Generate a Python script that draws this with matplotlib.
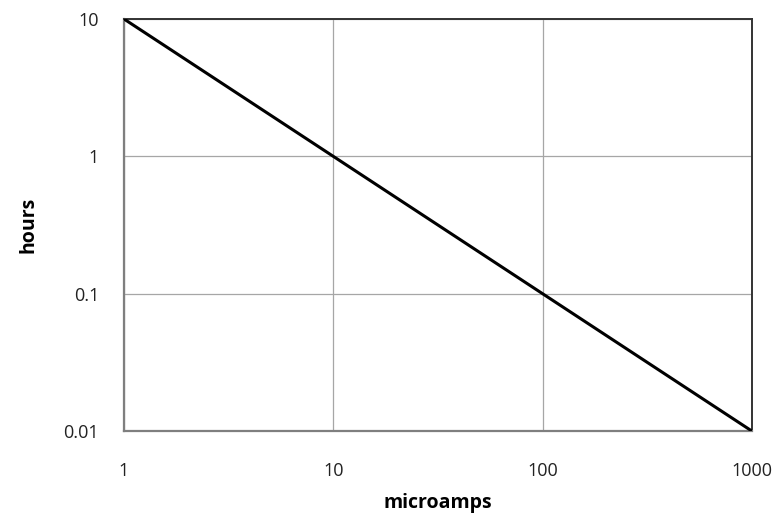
import numpy as np
import matplotlib.pyplot as plt
from matplotlib.ticker import FixedLocator, FixedFormatter, NullLocator

microamps = [1, 10, 100, 1000]
hours = [10, 1, 0.1, 0.01]
x_ticks = [1, 10, 100, 1000]
x_labels = ['1', '10', '100', '1000']
y_ticks = [0.01, 0.1, 1, 10]
y_labels = ['0.01', '0.1', '1', '10']

plt.rcParams['font.family'] = ['Open Sans', 'DejaVu Sans']

fig = plt.figure(figsize=(7.77, 5.22), dpi=100)
ax = fig.add_axes([0.1596, 0.1743, 0.808, 0.7893])

ax.plot(microamps, hours, color='black', lw=2.2, solid_capstyle='round', zorder=3)

ax.set_xscale('log')
ax.set_yscale('log')
ax.set_xlim(1, 1000)
ax.set_ylim(0.01, 10)

ax.xaxis.set_major_locator(FixedLocator(x_ticks))
ax.xaxis.set_major_formatter(FixedFormatter(x_labels))
ax.yaxis.set_major_locator(FixedLocator(y_ticks))
ax.yaxis.set_major_formatter(FixedFormatter(y_labels))
ax.xaxis.set_minor_locator(NullLocator())
ax.yaxis.set_minor_locator(NullLocator())

ax.grid(True, color='#a6a6a6', lw=0.9)
ax.tick_params(length=0, labelsize=13, colors='#222222')
ax.tick_params(axis='x', pad=22)
ax.tick_params(axis='y', pad=18)

for s in ['left', 'bottom']:
    ax.spines[s].set_color('#7f7f7f')
    ax.spines[s].set_linewidth(1.6)
for s in ['top', 'right']:
    ax.spines[s].set_color('#333333')
    ax.spines[s].set_linewidth(1.4)

ax.set_xlabel('microamps', fontsize=14, fontweight='bold', labelpad=10)
ax.set_ylabel('hours', fontsize=14, fontweight='bold', labelpad=18)

fig.savefig('out.png', dpi=100)
